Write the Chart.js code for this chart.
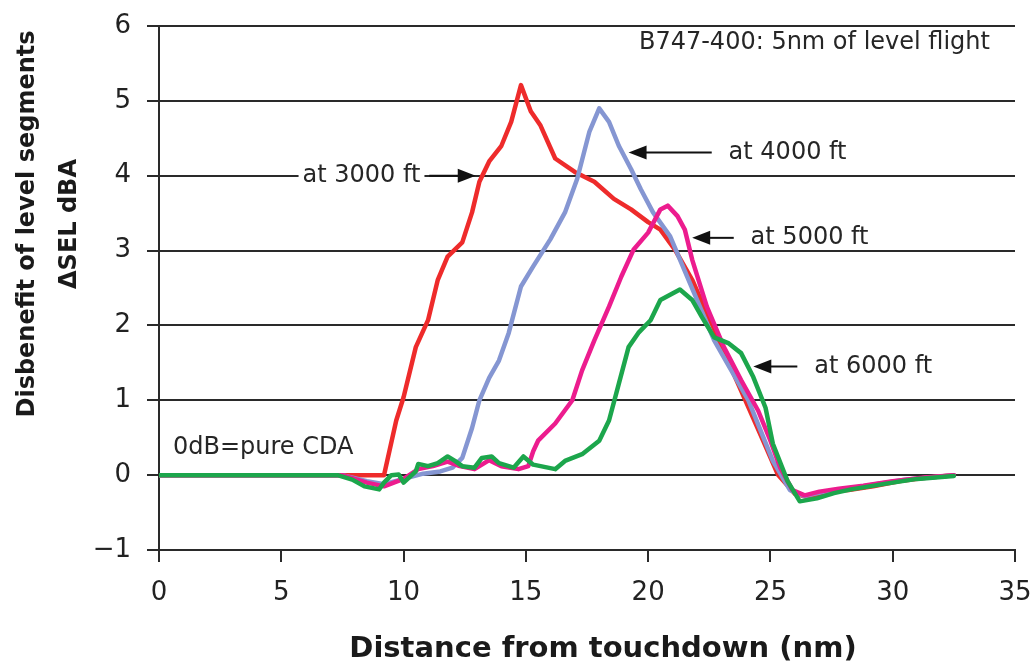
<!DOCTYPE html>
<html>
<head>
<meta charset="utf-8">
<script src="https://cdn.jsdelivr.net/npm/chart.js@4.4.1/dist/chart.umd.min.js"></script>
<style>
  html, body { margin: 0; padding: 0; background: #fff; }
</style>
</head>
<body>
<canvas id="chart" width="1035" height="662"></canvas>
<script>
Chart.defaults.font.family = "'DejaVu Sans', sans-serif";
Chart.defaults.color = '#222';

// tick labels
const xTickValues = [0, 5, 10, 15, 20, 25, 30, 35];
const yTickValues = [-1, 0, 1, 2, 3, 4, 5, 6];

// level flight at 3000 ft
const distRed = [0, 7.5, 9.2, 9.7, 10.0, 10.5, 11.0, 11.4, 11.8, 12.4, 12.8, 13.1, 13.5, 14.0, 14.4, 14.8, 15.2, 15.6, 16.2, 17.0, 17.8, 18.6, 19.3, 20.0, 20.5, 21.1, 21.8, 22.7, 23.8, 24.7, 25.3, 26.0, 26.6, 27.3, 28.2, 29.2, 30.3, 31.5, 32.5];
const dselRed = [0, 0, 0, 0.73, 1.04, 1.71, 2.07, 2.61, 2.92, 3.11, 3.51, 3.92, 4.19, 4.40, 4.72, 5.21, 4.86, 4.67, 4.23, 4.05, 3.92, 3.69, 3.55, 3.38, 3.28, 3.01, 2.61, 1.94, 1.13, 0.46, 0.01, -0.25, -0.30, -0.22, -0.20, -0.15, -0.08, -0.03, 0];

// at 4000 ft
const distBlue = [0, 7.5, 8.5, 9.2, 10.0, 10.8, 11.5, 12.0, 12.4, 12.8, 13.1, 13.5, 13.9, 14.3, 14.8, 15.3, 16.0, 16.6, 17.1, 17.6, 18.0, 18.4, 18.8, 19.3, 19.7, 20.2, 20.9, 21.6, 22.7, 24.1, 25.1, 25.8, 26.4, 27.2, 28.2, 29.3, 30.5, 31.5, 32.5];
const dselBlue = [0, 0, -0.08, -0.12, -0.05, 0.02, 0.05, 0.10, 0.23, 0.63, 1.0, 1.30, 1.53, 1.90, 2.52, 2.79, 3.15, 3.51, 3.96, 4.59, 4.90, 4.72, 4.40, 4.09, 3.82, 3.51, 3.19, 2.65, 1.80, 1.0, 0.19, -0.20, -0.28, -0.22, -0.18, -0.12, -0.06, -0.03, 0];

// at 5000 ft
const distMagenta = [0, 7.5, 8.5, 9.2, 10.0, 10.6, 11.2, 11.8, 12.3, 12.9, 13.5, 14.0, 14.7, 15.1, 15.3, 15.5, 16.2, 16.9, 17.3, 17.8, 18.4, 18.9, 19.4, 20.0, 20.5, 20.8, 21.2, 21.5, 21.8, 22.4, 23.1, 23.8, 24.5, 25.0, 25.4, 25.9, 26.4, 27.0, 27.8, 28.8, 30.0, 31.3, 32.5];
const dselMagenta = [0, 0, -0.10, -0.15, -0.05, 0.08, 0.12, 0.18, 0.12, 0.08, 0.20, 0.12, 0.08, 0.12, 0.32, 0.46, 0.69, 1.0, 1.40, 1.80, 2.25, 2.65, 3.01, 3.24, 3.55, 3.60, 3.46, 3.28, 2.88, 2.25, 1.71, 1.27, 0.86, 0.46, 0.10, -0.20, -0.27, -0.22, -0.18, -0.14, -0.08, -0.03, 0];

// at 6000 ft
const distGreen = [0, 7.3, 7.9, 8.4, 9.0, 9.2, 9.5, 9.8, 10.0, 10.5, 10.6, 11.0, 11.4, 11.8, 12.1, 12.4, 12.9, 13.2, 13.6, 13.9, 14.5, 14.9, 15.3, 16.2, 16.6, 17.3, 18.0, 18.4, 18.8, 19.2, 19.6, 20.1, 20.5, 20.9, 21.3, 21.8, 22.2, 22.7, 23.3, 23.8, 24.3, 24.8, 25.1, 25.7, 26.2, 26.9, 27.6, 28.3, 29.6, 31.0, 32.5];
const dselGreen = [0, 0, -0.06, -0.15, -0.19, -0.10, 0, 0.01, -0.10, 0.05, 0.15, 0.12, 0.16, 0.25, 0.19, 0.12, 0.10, 0.23, 0.25, 0.16, 0.10, 0.25, 0.14, 0.08, 0.19, 0.28, 0.46, 0.73, 1.22, 1.71, 1.90, 2.07, 2.34, 2.41, 2.48, 2.34, 2.11, 1.84, 1.76, 1.63, 1.31, 0.90, 0.42, -0.08, -0.35, -0.31, -0.24, -0.19, -0.12, -0.05, -0.01];

const yTitle = ['Disbenefit of level segments', '\u0394SEL dBA'];
const xTitle = 'Distance from touchdown (nm)';

const notes = [
  { text: 'at 3000 ft', x: 8.28, y: 4.0, from: 11.05, to: 12.95, bg: true },
  { text: 'at 4000 ft', x: 25.7, y: 4.31, from: 22.6, to: 19.2 },
  { text: 'at 5000 ft', x: 26.6, y: 3.17, from: 23.5, to: 21.8 },
  { text: 'at 6000 ft', x: 29.2, y: 1.45, from: 26.1, to: 24.3 },
  { text: '0dB=pure CDA', x: 0.57, y: 0.36, align: 'left' },
  { text: 'B747-400: 5nm of level flight', x: 26.8, y: 5.77 }
];

const toPoints = (xs, ys) => xs.map((v, i) => ({ x: v, y: ys[i] }));
const lineColor = '#2a2a2a';

const notesPlugin = {
  id: 'notes',
  afterDraw(chart) {
    const { ctx } = chart;
    const x = chart.scales.x, y = chart.scales.y;
    ctx.save();
    ctx.fillStyle = '#1a1a1a';

    // axis titles
    ctx.font = "bold 24px 'DejaVu Sans'";
    ctx.textAlign = 'center';
    ctx.textBaseline = 'alphabetic';
    yTitle.forEach((line, i) => {
      ctx.save();
      ctx.translate(34 + i * 42, 224);
      ctx.rotate(-Math.PI / 2);
      ctx.fillText(line, 0, 0);
      ctx.restore();
    });
    ctx.font = "bold 29px 'DejaVu Sans'";
    ctx.fillText(xTitle, 603, 657);

    // annotations
    ctx.font = "24px 'DejaVu Sans'";
    ctx.textBaseline = 'middle';
    notes.forEach(n => {
      const px = x.getPixelForValue(n.x);
      const py = y.getPixelForValue(n.y);
      ctx.textAlign = n.align || 'center';
      if (n.bg) {
        const w = ctx.measureText(n.text).width;
        ctx.fillStyle = '#fff';
        ctx.fillRect(px - w / 2 - 4, py - 12, w + 8, 24);
      }
      ctx.fillStyle = '#262626';
      ctx.fillText(n.text, px, py);
      if (n.from !== undefined) {
        const x1 = x.getPixelForValue(n.from);
        const x2 = x.getPixelForValue(n.to);
        const dir = x2 > x1 ? 1 : -1;
        ctx.strokeStyle = '#111';
        ctx.lineWidth = 2;
        ctx.beginPath();
        ctx.moveTo(x1, py);
        ctx.lineTo(x2 - dir * 10, py);
        ctx.stroke();
        ctx.fillStyle = '#111';
        ctx.beginPath();
        ctx.moveTo(x2, py);
        ctx.lineTo(x2 - dir * 18, py - 7);
        ctx.lineTo(x2 - dir * 18, py + 7);
        ctx.closePath();
        ctx.fill();
      }
    });
    ctx.restore();
  }
};

const lineStyle = { borderWidth: 4.5, pointRadius: 0, tension: 0, borderJoinStyle: 'round', borderCapStyle: 'round' };

new Chart(document.getElementById('chart'), {
  type: 'line',
  data: {
    datasets: [
      { data: toPoints(distGreen, dselGreen), borderColor: '#1ca64c', order: 1, ...lineStyle },
      { data: toPoints(distMagenta, dselMagenta), borderColor: '#ec1c8e', order: 2, ...lineStyle },
      { data: toPoints(distBlue, dselBlue), borderColor: '#8596d2', order: 3, ...lineStyle },
      { data: toPoints(distRed, dselRed), borderColor: '#ee2b2b', order: 4, ...lineStyle }
    ]
  },
  options: {
    responsive: false,
    animation: false,
    devicePixelRatio: 1,
    layout: { padding: { left: 0, right: 20, top: 26, bottom: 0 } },
    scales: {
      x: {
        type: 'linear',
        min: 0,
        max: 35,
        afterBuildTicks: s => { s.ticks = xTickValues.map(v => ({ value: v })); },
        afterFit: s => { s.height = 112; s.paddingLeft = 0; s.paddingRight = 0; },
        ticks: { font: { size: 26 }, color: '#222', padding: 16, maxRotation: 0 },
        grid: { drawOnChartArea: false, drawTicks: true, tickLength: 12, color: lineColor, lineWidth: 2 },
        border: { display: true, color: lineColor, width: 2 }
      },
      y: {
        min: -1,
        max: 6,
        afterBuildTicks: s => { s.ticks = yTickValues.map(v => ({ value: v })); },
        afterFit: s => { s.width = 159; s.paddingTop = 0; s.paddingBottom = 0; },
        ticks: {
          font: { size: 26 },
          color: '#222',
          padding: 16,
          callback: v => (v < 0 ? '\u2212' + Math.abs(v) : String(v))
        },
        grid: { color: lineColor, lineWidth: 2, tickLength: 12 },
        border: { display: true, color: lineColor, width: 2 }
      }
    },
    plugins: {
      legend: { display: false },
      tooltip: { enabled: false }
    }
  },
  plugins: [notesPlugin]
});
</script>
</body>
</html>
